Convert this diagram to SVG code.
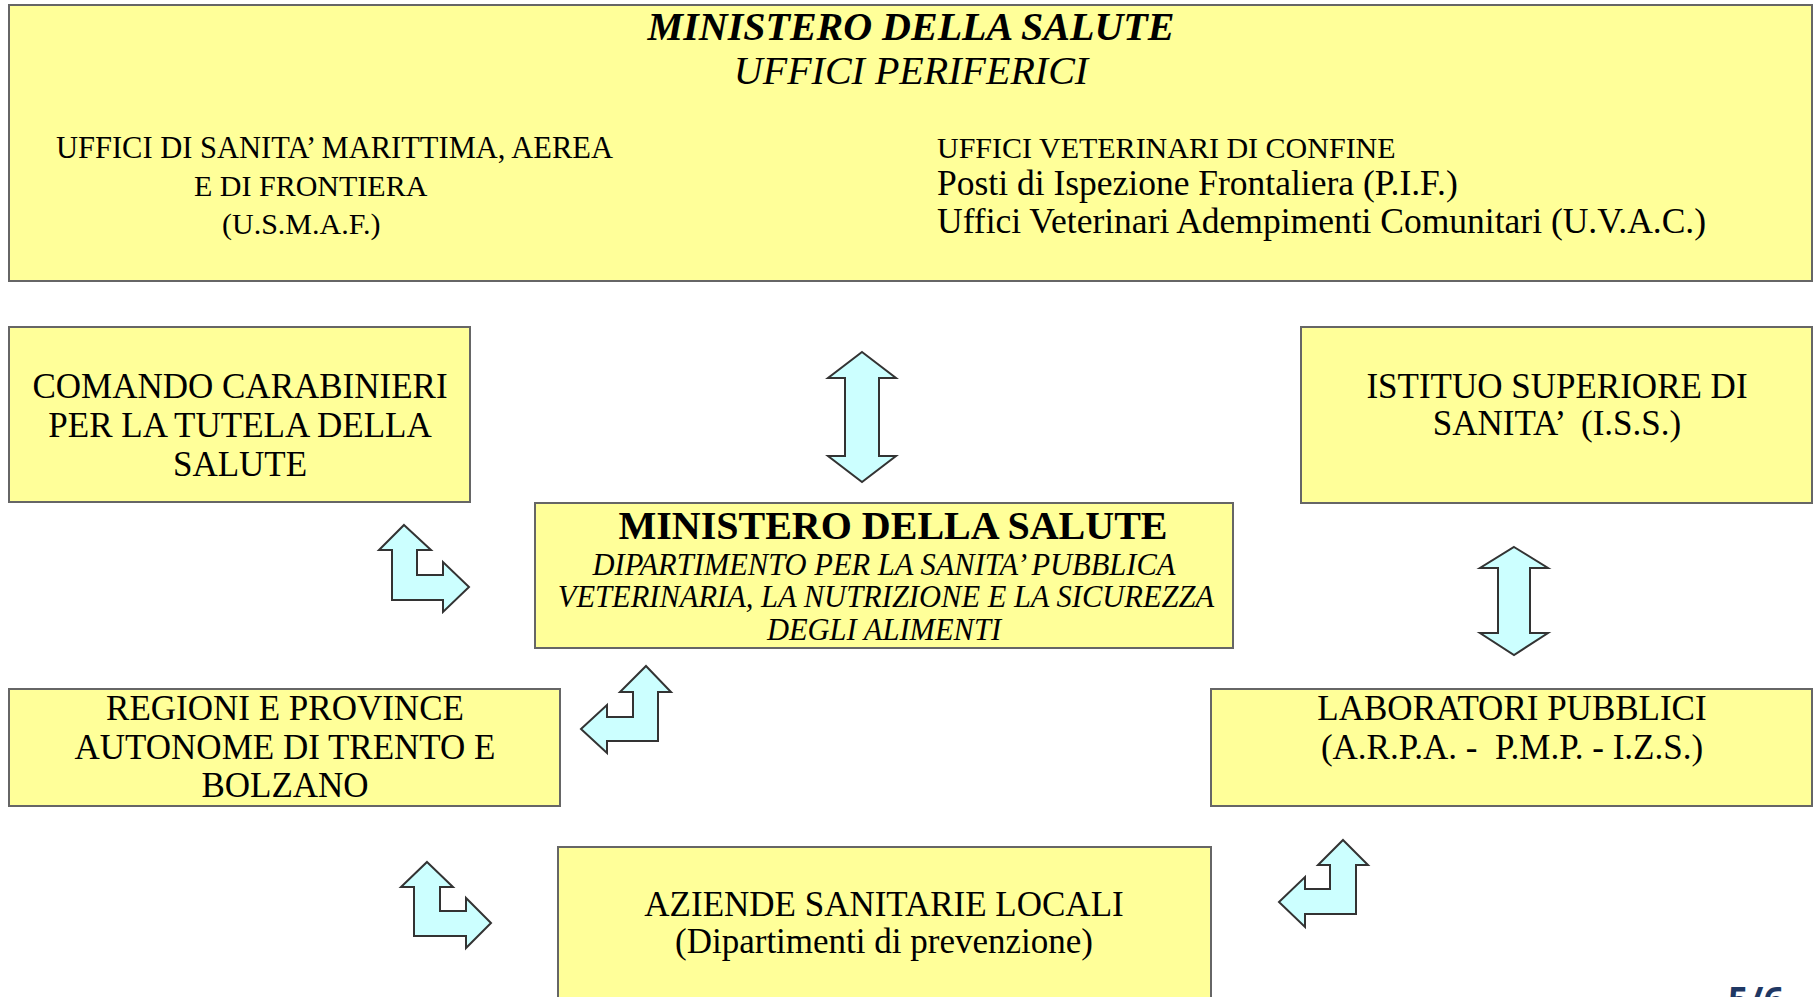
<svg xmlns="http://www.w3.org/2000/svg" width="1819" height="997" viewBox="0 0 1819 997">
<style>
.box{fill:#FFFF99;stroke:#666666;stroke-width:2}
.arr{fill:#CCFFFF;stroke:#333333;stroke-width:2;stroke-linejoin:miter}
text{font-family:"Liberation Serif","Times New Roman",serif;fill:#000000}
.c{text-anchor:middle}
.u{font-size:30px}
.m{font-size:35.5px}
.n{font-size:35px}
.it{font-style:italic}
.b{font-weight:bold}
</style>
<rect width="1819" height="997" fill="#FFFFFF"/>
<g id="uffici-periferici">
<rect class="box" x="9" y="5" width="1803" height="276"/>
<text class="c b it" x="911" y="40" font-size="40">MINISTERO DELLA SALUTE</text>
<text class="c it" x="911" y="84" font-size="40">UFFICI PERIFERICI</text>
<text class="u" x="56" y="158" font-size="30.5" style="font-size:30.5px">UFFICI DI SANITA’ MARITTIMA, AEREA</text>
<text class="u" x="194" y="196">E DI FRONTIERA</text>
<text class="u" x="222" y="234">(U.S.M.A.F.)</text>
<text class="u" x="937" y="158">UFFICI VETERINARI DI CONFINE</text>
<text class="m" x="937" y="195">Posti di Ispezione Frontaliera (P.I.F.)</text>
<text class="m" x="937" y="233">Uffici Veterinari Adempimenti Comunitari (U.V.A.C.)</text>
</g>
<g id="carabinieri">
<rect class="box" x="9" y="327" width="461" height="175"/>
<text class="c n" x="240" y="398">COMANDO CARABINIERI</text>
<text class="c n" x="240" y="437">PER LA TUTELA DELLA</text>
<text class="c n" x="240" y="476">SALUTE</text>
</g>
<g id="iss">
<rect class="box" x="1301" y="327" width="511" height="176"/>
<text class="c n" x="1557" y="398">ISTITUO SUPERIORE DI</text>
<text class="c n" x="1557" y="435" xml:space="preserve">SANITA’  (I.S.S.)</text>
</g>
<g id="ministero">
<rect class="box" x="535" y="503" width="698" height="145"/>
<text class="c b" x="893" y="539" font-size="40">MINISTERO DELLA SALUTE</text>
<text class="c it" x="884" y="575" font-size="30.5">DIPARTIMENTO PER LA SANITA’ PUBBLICA</text>
<text class="c it" x="886" y="607" font-size="30.5">VETERINARIA, LA NUTRIZIONE E LA SICUREZZA</text>
<text class="c it" x="884" y="640" font-size="30.5">DEGLI ALIMENTI</text>
</g>
<g id="regioni">
<rect class="box" x="9" y="689" width="551" height="117"/>
<text class="c n" x="285" y="720">REGIONI E PROVINCE</text>
<text class="c n" x="285" y="759">AUTONOME DI TRENTO E</text>
<text class="c n" x="285" y="797">BOLZANO</text>
</g>
<g id="laboratori">
<rect class="box" x="1211" y="689" width="601" height="117"/>
<text class="c n" x="1512" y="720">LABORATORI PUBBLICI</text>
<text class="c n" x="1512" y="759" xml:space="preserve">(A.R.P.A. -  P.M.P. - I.Z.S.)</text>
</g>
<g id="asl">
<rect class="box" x="558" y="847" width="653" height="170"/>
<text class="c n" x="884" y="916">AZIENDE SANITARIE LOCALI</text>
<text class="c n" x="884" y="953">(Dipartimenti di prevenzione)</text>
</g>
<g id="connectors">
<polygon class="arr" points="862,352 896,378 879,378 879,456 896,456 862,482 828,456 845,456 845,378 828,378"/>
<polygon class="arr" points="1514,547 1548,568 1530,568 1530,633 1548,633 1514,655 1480,633 1498,633 1498,568 1480,568"/>
<polygon class="arr" points="404,525 431,550 417,550 417,575 443,575 443,562 469,587 443,612 443,600 392,600 392,550 379,550"/>
<polygon class="arr" points="646,666 671,692 658,692 658,741 607,741 607,753 581,729 607,705 607,717 633,717 633,692 620,692"/>
<polygon class="arr" points="427,862 453,887 440,887 440,911 466,911 466,898 491,923 466,948 466,936 414,936 414,887 401,887"/>
<polygon class="arr" points="1343,840 1368,865 1356,865 1356,914 1305,914 1305,927 1279,902 1305,877 1305,889 1330,889 1330,865 1318,865"/>
</g>
<text x="1728" y="1013" font-weight="bold" font-size="36" style="font-family:'Open Sans','Liberation Sans',sans-serif;fill:#1F3864">5/6</text>
</svg>
